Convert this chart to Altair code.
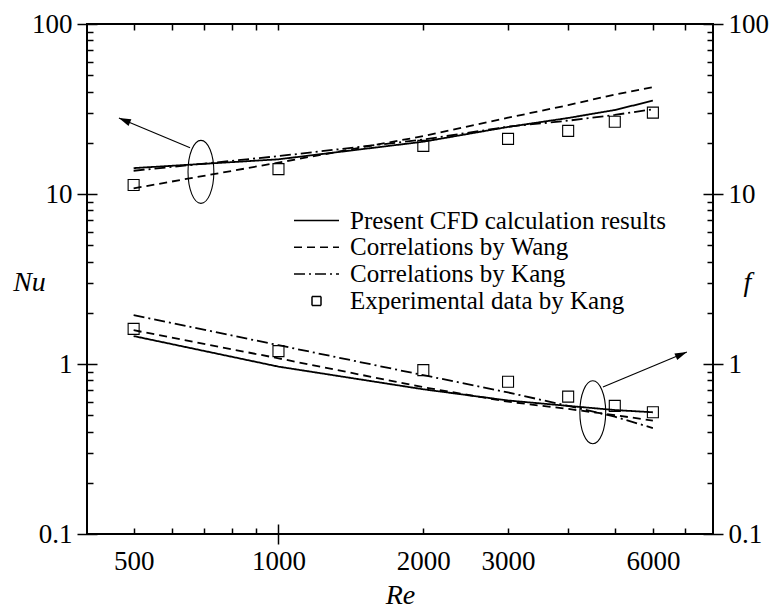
import altair as alt
import pandas as pd

# ---------------- data ----------------
re_vals = [500, 1000, 2000, 3000, 4000, 5000, 6000]

nu_cfd = [14.2, 16.0, 20.3, 24.8, 28.0, 31.2, 35.4]
nu_wang = [10.8, 15.3, 21.9, 28.1, 33.3, 38.5, 42.5]
nu_kang = [13.7, 16.7, 20.9, 24.9, 27.0, 29.2, 31.5]
nu_exp = [11.3, 14.0, 19.2, 21.1, 23.5, 26.6, 30.1]

f_cfd = [1.46, 0.965, 0.71, 0.61, 0.567, 0.536, 0.52]
f_wang = [1.58, 1.08, 0.73, 0.60, 0.544, 0.50, 0.465]
f_kang = [1.94, 1.29, 0.86, 0.68, 0.567, 0.49, 0.42]
f_exp = [1.61, 1.19, 0.92, 0.787, 0.643, 0.567, 0.52]

series_names = [
    "Present CFD calculation results",
    "Correlations by Wang",
    "Correlations by Kang",
    "Experimental data by Kang",
]

# tick values
x_label_ticks = [500, 1000, 2000, 3000, 6000]
x_minor_ticks = [500, 600, 700, 800, 900, 2000, 3000, 4000, 5000, 6000, 7000]
x_major_ticks = [1000]
x_top_ticks = [500, 600, 700, 800, 900, 1000, 2000, 3000, 4000, 5000, 6000, 7000]
y_major_ticks = [0.1, 1, 10, 100]
y_minor_ticks = [0.2, 0.3, 0.4, 0.5, 0.6, 0.7, 0.8, 0.9,
                 2, 3, 4, 5, 6, 7, 8, 9,
                 20, 30, 40, 50, 60, 70, 80, 90]

# annotations (ellipses + arrows), in data coordinates
ellipse_re = [690, 4500]
ellipse_val = [13.5, 0.52]
arrow_from_re = [655, 4725]
arrow_from_val = [18.7, 0.732]
arrow_to_re = [466, 7060]
arrow_to_val = [28.0, 1.176]

# ---------------- tables ----------------
rows = []
for name, nu, f in [(series_names[0], nu_cfd, f_cfd),
                    (series_names[1], nu_wang, f_wang),
                    (series_names[2], nu_kang, f_kang)]:
    for r, a, b in zip(re_vals, nu, f):
        rows.append({"Re": r, "value": a, "series": name, "quantity": "Nu"})
        rows.append({"Re": r, "value": b, "series": name, "quantity": "f"})
lines_df = pd.DataFrame(rows)

exp_rows = []
for r, a, b in zip(re_vals, nu_exp, f_exp):
    exp_rows.append({"Re": r, "value": a, "series": series_names[3], "quantity": "Nu"})
    exp_rows.append({"Re": r, "value": b, "series": series_names[3], "quantity": "f"})
exp_df = pd.DataFrame(exp_rows)

ell_df = pd.DataFrame({"Re": ellipse_re, "value": ellipse_val})
arrow_df = pd.DataFrame({"Re": arrow_from_re, "value": arrow_from_val,
                         "Re2": arrow_to_re, "value2": arrow_to_val})
head_df = pd.DataFrame({"Re": arrow_to_re, "value": arrow_to_val,
                        "ang": [293, 67]})

# ---------------- styling ----------------
SERIF = "Liberation Serif, Times New Roman, serif"
LABEL_SIZE = 27
TITLE_SIZE = 28

x_scale = alt.Scale(type="log", domain=[400, 8000], nice=False)
y_scale = alt.Scale(type="log", domain=[0.1, 100], nice=False)

common = dict(labelFont=SERIF, labelFontSize=LABEL_SIZE, labelColor="black",
              tickColor="black", tickWidth=1.5, grid=False, domain=False,
              labelFlush=False, labelOverlap=False,
              titleFont=SERIF, titleFontSize=TITLE_SIZE, titleFontStyle="italic",
              titleFontWeight="normal", titleColor="black")

ax_bottom_labels = alt.Axis(orient="bottom", values=x_label_ticks, format="~g",
                            ticks=False, labelPadding=14, title="Re",
                            titleX=313, titleY=69, titleAlign="center",
                            titleBaseline="alphabetic", **common)
ax_bottom_minor = alt.Axis(orient="bottom", values=x_minor_ticks, labels=False,
                           offset=-6, tickSize=6, title=None, **common)
ax_bottom_major = alt.Axis(orient="bottom", values=x_major_ticks, labels=False,
                           offset=-10, tickSize=20, title=None, **common)
ax_top = alt.Axis(orient="top", values=x_top_ticks, labels=False,
                  offset=-6, tickSize=6, title=None, **common)

ax_left_labels = alt.Axis(orient="left", values=y_major_ticks, format="~g",
                          offset=-10, tickSize=20, labelPadding=5, title="Nu",
                          titleAngle=0, titleX=-68, titleY=266, titleAlign="center",
                          titleBaseline="alphabetic", **common)
ax_left_minor = alt.Axis(orient="left", values=y_minor_ticks, labels=False,
                         offset=-6, tickSize=6, title=None, **common)
ax_right_labels = alt.Axis(orient="right", values=y_major_ticks, format="~g",
                           offset=-10, tickSize=20, labelPadding=5, title="f",
                           titleAngle=0, titleX=44, titleY=266, titleAlign="center",
                           titleBaseline="alphabetic", **common)
ax_right_minor = alt.Axis(orient="right", values=y_minor_ticks, labels=False,
                          offset=-6, tickSize=6, title=None, **common)

line_path = "M-2.5,0L2.5,0"
square_path = "M-0.5,-0.5L0.5,-0.5L0.5,0.5L-0.5,0.5Z"
ellipse_path = "M0,-1A0.41,1,0,1,1,0,1A0.41,1,0,1,1,0,-1Z"
head_path = "M0,0L0.3,1L-0.3,1Z"

legend_props = dict(orient="none", legendX=217, legendY=184, title=None,
                    labelFont=SERIF, labelFontSize=25, labelColor="black",
                    labelLimit=600, labelOffset=21, rowPadding=0.8,
                    symbolSize=324, symbolStrokeWidth=1.5,
                    symbolStrokeColor="black", symbolFillColor="transparent",
                    padding=0)

lines = alt.Chart(lines_df).mark_line(color="black", strokeWidth=1.8).encode(
    x=alt.X("Re:Q", scale=x_scale, axis=ax_bottom_labels),
    y=alt.Y("value:Q", scale=y_scale, axis=ax_left_labels),
    strokeDash=alt.StrokeDash(
        "series:N",
        scale=alt.Scale(domain=series_names,
                        range=[[1, 0], [8, 5], [11, 4, 2, 4], [1, 0]]),
        legend=alt.Legend(**legend_props)),
    detail="quantity:N",
)

points = alt.Chart(exp_df).mark_point(filled=False, color="black", size=484,
                                      strokeWidth=1.1, opacity=1).encode(
    x=alt.X("Re:Q", scale=x_scale, axis=ax_bottom_minor),
    y=alt.Y("value:Q", scale=y_scale, axis=ax_left_minor),
    shape=alt.Shape(
        "series:N",
        scale=alt.Scale(domain=series_names,
                        range=[line_path, line_path, line_path, square_path]),
        legend=alt.Legend(**legend_props)),
)

ellipses = alt.Chart(ell_df).mark_point(shape=ellipse_path, size=3969, filled=False,
                                        color="black", strokeWidth=1.1, opacity=1).encode(
    x=alt.X("Re:Q", scale=x_scale, axis=ax_bottom_major),
    y=alt.Y("value:Q", scale=y_scale, axis=ax_right_labels),
)

arrows = alt.Chart(arrow_df).mark_rule(color="black", strokeWidth=1.1).encode(
    x=alt.X("Re:Q", scale=x_scale, axis=ax_top),
    y=alt.Y("value:Q", scale=y_scale, axis=ax_right_minor),
    x2="Re2:Q",
    y2="value2:Q",
)

heads = alt.Chart(head_df).mark_point(shape=head_path, size=576, filled=True,
                                      color="black", opacity=1).encode(
    x=alt.X("Re:Q", scale=x_scale, axis=None),
    y=alt.Y("value:Q", scale=y_scale, axis=None),
    angle=alt.Angle("ang:Q", scale=None),
)

chart = alt.layer(lines, points, ellipses, arrows, heads).resolve_axis(
    x="independent", y="independent"
).properties(
    width=626, height=510,
    padding={"left": 87, "top": 24, "right": 63, "bottom": 76},
    autosize=alt.AutoSizeParams(type="none"),
    background="white",
).configure_view(stroke="black", strokeWidth=2)

chart.save("out.html", embed_options={"renderer": "svg", "actions": False})
